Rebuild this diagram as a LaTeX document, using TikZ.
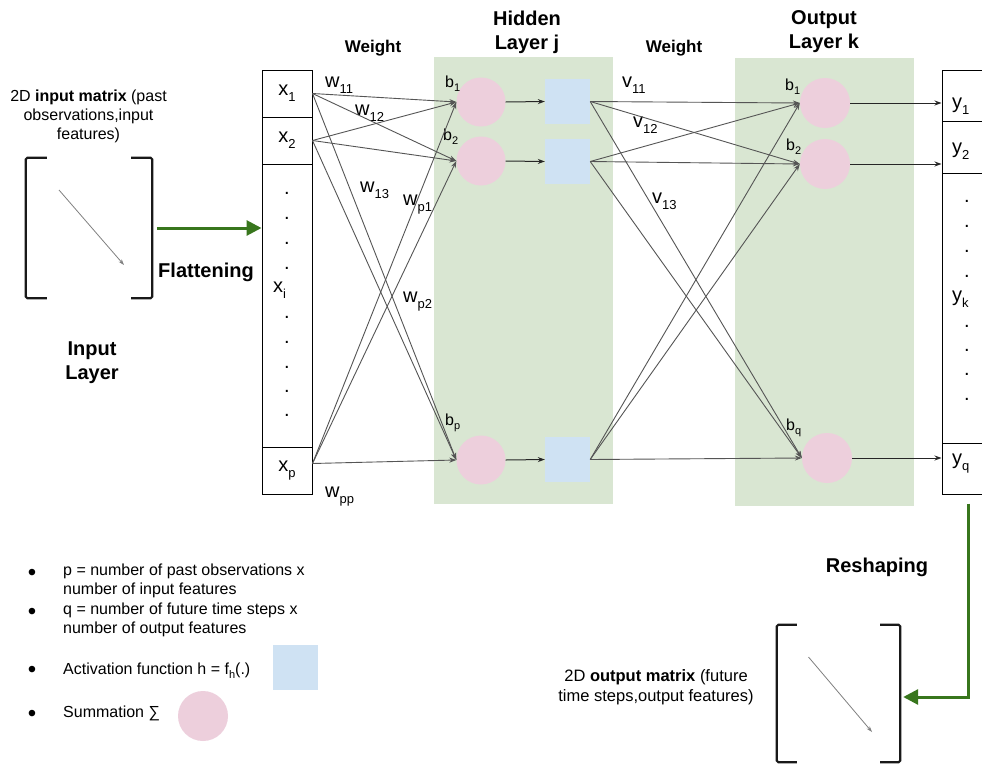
\documentclass[tikz,border=0pt]{standalone}
\usepackage{fontspec}
\setmainfont{Liberation Sans}
\usetikzlibrary{arrows.meta}
\definecolor{lgreen}{HTML}{D9E6D2}
\definecolor{lpink}{HTML}{EDCFDC}
\definecolor{lblue}{HTML}{CFE2F3}
\definecolor{dgreen}{HTML}{38761D}
\definecolor{edgegray}{HTML}{555555}
\newcommand\lblfont{\fontsize{20}{24}\selectfont}
\newcommand\lsub[2]{#1\raisebox{-6pt}{\fontsize{13}{13}\selectfont #2}}
\newcommand\bsub[2]{#1\raisebox{-4pt}{\fontsize{11}{11}\selectfont #2}}
\begin{document}
\begin{tikzpicture}[x=1pt,y=-1pt,
  cell/.style={draw=black, line width=1pt, minimum width=50pt, inner sep=0pt, font=\lblfont},
  ycell/.style={draw=black, line width=1pt, minimum width=52pt, inner sep=0pt},
  layerbg/.style={fill=lgreen, draw=none, inner sep=0pt, anchor=north west},
  sumc/.style={circle, fill=lpink, minimum size=49pt, inner sep=0pt},
  actsq/.style={fill=lblue, minimum size=45pt, inner sep=0pt},
  wedge/.style={draw=edgegray, line width=0.9pt, -{Stealth[length=7pt,width=5pt]}},
  darr/.style={draw=black!85, line width=1pt, -{Stealth[length=7pt,width=5pt]}},
  garr/.style={draw=dgreen, line width=3pt, -{Triangle[length=15pt,width=15pt]}},
  bracket/.style={line width=2.2pt, draw=black!90, rounded corners=1.5pt},
  matarr/.style={draw=gray, line width=0.8pt, -{Stealth[length=6pt,width=4pt]}},
  head/.style={font=\bfseries\fontsize{17}{20}\selectfont, align=center},
  headL/.style={font=\bfseries\fontsize{20}{24}\selectfont, align=center},
  wlbl/.style={font=\lblfont, anchor=base west, inner sep=0pt},
  blbl/.style={font=\fontsize{16}{19}\selectfont, anchor=base west, inner sep=0pt},
  dotlbl/.style={font=\lblfont, anchor=base, inner sep=0pt},
  txt/.style={font=\fontsize{16}{19}\selectfont, align=center},
  leg/.style={font=\fontsize{16}{19}\selectfont, align=left, inner sep=0pt},
  bul/.style={font=\fontsize{24}{24}\selectfont, inner sep=0pt}
]
\useasboundingbox (0,0) rectangle (982,766);
\fill[white] (0,0) rectangle (982,766);

% layer backgrounds
\node[layerbg, minimum width=179pt, minimum height=447pt] (hidbg) at (434,57) {};
\node[layerbg, minimum width=179pt, minimum height=448pt] (outbg) at (735,58) {};

% headings
\node[head] (wt1) at (373,48) {Weight};
\node[head] (wt2) at (674,48) {Weight};
\node[headL] (hidt) at (527,32) {Hidden\\Layer j};
\node[headL] (outt) at (824,32) {Output\\Layer k};
\node[headL] (flat) at (206,272) {Flattening};
\node[headL] (inl) at (92,363) {Input\\Layer};
\node[headL] (resh) at (877,567) {Reshaping};

% input matrix
\node[txt] (intxt) at (88.5,116) {2D \textbf{input matrix} (past\\observations,input\\features)};
\node[minimum width=126pt, minimum height=140pt, inner sep=0pt] (inmat) at (89,228) {};
\draw[bracket] ([xshift=21pt]inmat.north west) -- (inmat.north west) -- (inmat.south west) -- ([xshift=21pt]inmat.south west);
\draw[bracket] ([xshift=-21pt]inmat.north east) -- (inmat.north east) -- (inmat.south east) -- ([xshift=-21pt]inmat.south east);
\draw[matarr] ([shift={(-30,-38)}]inmat.center) -- ([shift={(35,37)}]inmat.center);

% x column
\node[cell, minimum height=47pt] (x1) at (287,93.5) {\lsub{x}{1}};
\node[cell, minimum height=47pt] (x2) at (287,140.5) {\lsub{x}{2}};
\node[cell, minimum height=283pt] (xd) at (287,305.5) {};
\node[cell, minimum height=47pt] (xp) at (287,470.5) {\lsub{x}{p}};
\node[wlbl] (xi) at (273,292) {\lsub{x}{i}};
\foreach \yy [count=\k] in {193,218,243,268,317,342,367,391,415}
  \node[dotlbl] (xdot\k) at (287,\yy+1.5) {.};

% flatten arrow
\draw[garr] ([xshift=5pt]inmat.east) -- (inmat.east -| xd.west);

% hidden layer
\node[sumc] (h1) at (481,102) {};
\node[sumc] (h2) at (481,161) {};
\node[sumc] (hp) at (481,460) {};
\node[actsq] (a1) at (567.5,101.5) {};
\node[actsq] (a2) at (567.5,161.5) {};
\node[actsq] (ap) at (567.5,459.5) {};
\node[blbl] (hb1) at (445,87) {\bsub{b}{1}};
\node[blbl] (hb2) at (443,140) {\bsub{b}{2}};
\node[blbl] (hbp) at (445,425) {\bsub{b}{p}};

% output layer
\node[sumc, minimum size=50pt] (o1) at (825,103) {};
\node[sumc, minimum size=50pt] (o2) at (825,164) {};
\node[sumc, minimum size=50pt] (oq) at (827,458) {};
\node[blbl] (ob1) at (785,90) {\bsub{b}{1}};
\node[blbl] (ob2) at (786,150) {\bsub{b}{2}};
\node[blbl] (obq) at (786,430) {\bsub{b}{q}};

% y column
\node[ycell, minimum height=51pt] (y1) at (968,95.5) {};
\node[ycell, minimum height=52pt] (y2) at (968,147) {};
\node[ycell, minimum height=270pt] (yd) at (968,308) {};
\node[ycell, minimum height=51pt] (yq) at (968,468.5) {};
\node[wlbl] (y1l) at (952,108) {\lsub{y}{1}};
\node[wlbl] (y2l) at (952,153) {\lsub{y}{2}};
\node[wlbl] (ykl) at (952,301) {\lsub{y}{k}};
\node[wlbl] (yql) at (952,464) {\lsub{y}{q}};
\foreach \yy [count=\k] in {201,226,251,276,326,350,374,399}
  \node[dotlbl] (ydot\k) at (967,\yy+1.5) {.};

% weight labels
\node[wlbl] (w11) at (325,87) {\lsub{w}{11}};
\node[wlbl] (w12) at (355,115) {\lsub{w}{12}};
\node[wlbl] (w13) at (360,192) {\lsub{w}{13}};
\node[wlbl] (wp1) at (403,205) {\lsub{w}{p1}};
\node[wlbl] (wp2) at (403,302) {\lsub{w}{p2}};
\node[wlbl] (wpp) at (325,497) {\lsub{w}{pp}};
\node[wlbl] (v11) at (622,87) {\lsub{v}{11}};
\node[wlbl] (v12) at (633,127) {\lsub{v}{12}};
\node[wlbl] (v13) at (652,203) {\lsub{v}{13}};

% connections input -> hidden
\foreach \s in {x1,x2}
  \foreach \t in {h1,h2,hp}
    \draw[wedge] (\s.east) -- (\t.west);
\foreach \t in {h1,h2,hp}
  \draw[wedge] ([yshift=7pt]xp.east) -- (\t.west);
% sum -> activation
\foreach \i in {1,2,p}
  \draw[darr] (h\i.east) -- (a\i.west);
% hidden -> output
\foreach \s in {a1,a2,ap}
  \foreach \t in {o1,o2,oq}
    \draw[wedge] (\s.east) -- (\t.west);
% output -> y
\foreach \t in {o1,o2,oq}
  \draw[darr] (\t.east) -- (\t.east -| y1.west);

% output matrix
\node[txt, font=\fontsize{16.5}{20}\selectfont] (outtxt) at (656,687) {2D \textbf{output matrix} (future\\time steps,output features)};
\node[minimum width=123pt, minimum height=137pt, inner sep=0pt] (outmat) at (838.5,693.5) {};
\draw[bracket] ([xshift=20pt]outmat.north west) -- (outmat.north west) -- (outmat.south west) -- ([xshift=20pt]outmat.south west);
\draw[bracket] ([xshift=-20pt]outmat.north east) -- (outmat.north east) -- (outmat.south east) -- ([xshift=-20pt]outmat.south east);
\draw[matarr] ([shift={(-30,-36.5)}]outmat.center) -- ([shift={(33.5,38.5)}]outmat.center);

% reshape arrow
\draw[garr] ([yshift=-9pt]yq.south) |- ([xshift=3pt,yshift=-3.5pt]outmat.east);

% legend
\node[bul] (lb1) at (32,575) {•};
\node[bul] (lb2) at (32,614) {•};
\node[bul] (lb3) at (32,672) {•};
\node[bul] (lb4) at (32,716) {•};
\node[leg, anchor=west] (l1) at (63,580.5) {p = number of past observations x\\number of input features};
\node[leg, anchor=west] (l2) at (63,619.5) {q = number of future time steps x\\number of output features};
\node[leg, anchor=base west] (l3) at (63,674) {Activation function h = \bsub{f}{h}(.)};
\node[leg, anchor=base west] (l4) at (63,717) {Summation ∑};
\node[actsq] (lsq) at (295.5,667.5) {};
\node[sumc, minimum size=50pt] (lci) at (203,716) {};
\end{tikzpicture}
\end{document}
